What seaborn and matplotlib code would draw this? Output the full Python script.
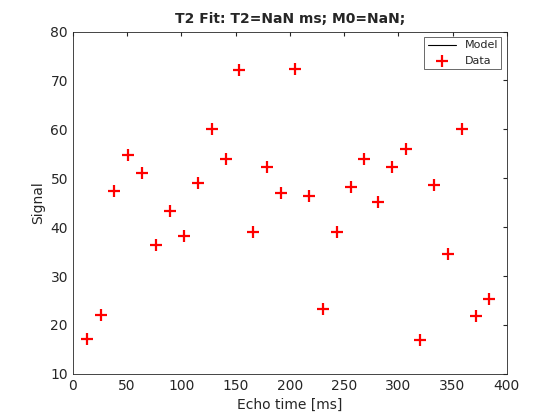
import numpy as np
import pandas as pd
import matplotlib
matplotlib.use("Agg")
import matplotlib.pyplot as plt
import seaborn as sns

# echo times [ms] and measured signal
echo_times = [12.8, 25.6, 38.4, 51.2, 64.0, 76.8, 89.6, 102.4, 115.2, 128.0,
              140.8, 153.6, 166.4, 179.2, 192.0, 204.8, 217.6, 230.4, 243.2, 256.0,
              268.8, 281.6, 294.4, 307.2, 320.0, 332.8, 345.6, 358.4, 371.2, 384.0]
signal = [17.2, 22.0, 47.3, 54.8, 51.0, 36.3, 43.2, 38.1, 49.1, 60.0,
          53.9, 72.2, 39.1, 52.2, 46.9, 72.4, 46.3, 23.2, 39.1, 48.1,
          53.9, 45.1, 52.2, 56.0, 17.0, 48.7, 34.4, 60.0, 21.8, 25.3]
# fit failed -> model is all NaN
model = [np.nan] * len(echo_times)

df = pd.DataFrame({"te": echo_times, "signal": signal, "model": model})

sns.set_style("white")
plt.rcParams['font.family'] = ['DejaVu Sans']

fig = plt.figure(figsize=(5.6, 4.2), dpi=100)
ax = fig.add_axes([0.13, 0.11, 0.775, 0.815])

ax.plot(df["te"], df["model"], color="black", lw=0.8, label="Model")
sns.scatterplot(data=df, x="te", y="signal", marker="+", s=70, color="red",
                linewidth=1.6, label="Data", ax=ax)

ax.set_xlim(0, 400)
ax.set_ylim(10, 80)
ax.set_xticks(range(0, 401, 50))
ax.set_yticks(range(10, 81, 10))
ax.tick_params(direction="in", length=3, labelsize=10, top=True, right=True,
               labeltop=False, labelright=False)
for sp in ax.spines.values():
    sp.set_color("#262626")
    sp.set_linewidth(0.6)
ax.set_xlabel("Echo time [ms]", fontsize=10)
ax.set_ylabel("Signal", fontsize=10)
ax.set_title("T2 Fit: T2=NaN ms; M0=NaN;", fontsize=10, fontweight="bold")

leg = ax.legend(loc="upper right", fontsize=8, frameon=True, fancybox=False,
                edgecolor="#262626", borderpad=0.3, handlelength=2.5)
leg.get_frame().set_linewidth(0.6)

fig.savefig("out.png", dpi=100)
